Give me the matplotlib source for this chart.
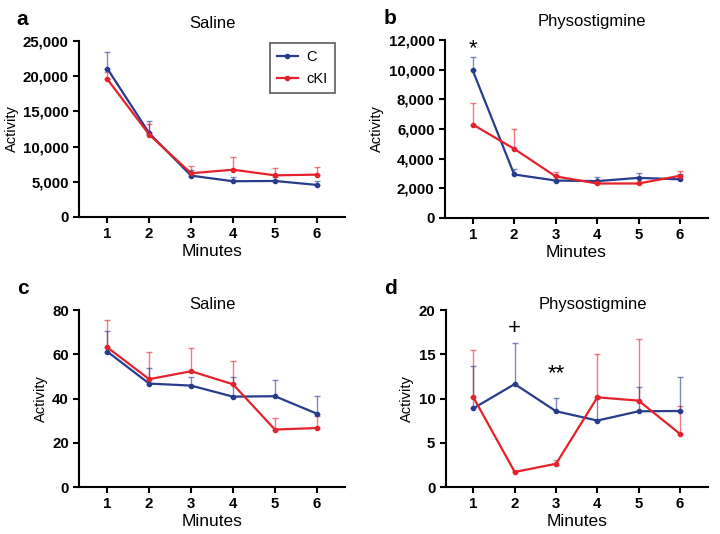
import numpy as np
import matplotlib
matplotlib.use('Agg')
import matplotlib.pyplot as plt

plt.rcParams['font.family'] = ['Liberation Sans', 'DejaVu Sans']

minutes = [1, 2, 3, 4, 5, 6]

# panel a: saline, activity counts
a_c = [21100, 11900, 5860, 5060, 5100, 4540]
a_c_err = [23500, 13600, 6700, 5700, 5700, 5060]
a_k = [19600, 11700, 6200, 6700, 5900, 6000]
a_k_err = [20600, 13200, 7200, 8500, 7000, 7100]

# panel b: physostigmine, activity counts
b_c = [9950, 2930, 2520, 2480, 2700, 2600]
b_c_err = [10850, 3330, 2800, 2750, 3000, 2950]
b_k = [6300, 4660, 2800, 2320, 2320, 2840]
b_k_err = [7720, 5970, 3080, 2450, 2450, 3170]

# panel c: saline, activity
c_c = [61.3, 46.8, 45.9, 40.9, 41.1, 33.2]
c_c_err = [70.8, 53.7, 49.7, 49.8, 48.3, 41.2]
c_k = [63.2, 48.8, 52.4, 46.5, 26.0, 26.7]
c_k_err = [75.8, 61.3, 62.8, 57.1, 31.2, 32.0]

# panel d: physostigmine, activity
d_c = [8.9, 11.65, 8.57, 7.52, 8.57, 8.6]
d_c_err = [13.7, 16.3, 10.1, 10.0, 11.3, 12.5]
d_k = [10.15, 1.7, 2.63, 10.15, 9.77, 6.0]
d_k_err = [15.45, 1.85, 3.08, 15.1, 16.7, 9.2]

blue = '#283c8e'
red = '#e5222b'


def draw(ax, c, c_err, k, k_err, ymax, step, title, letter, fmt, title_x=0.5, title_y=1.0):
    x = np.array(minutes)
    for vals, errs, col in [(k, k_err, red), (c, c_err, blue)]:
        vals = np.array(vals)
        up = np.array(errs) - vals
        ax.errorbar(x, vals, yerr=[np.zeros_like(up), up], fmt='none',
                    ecolor=col, alpha=0.6, elinewidth=1, capsize=2, capthick=1)
    ax.plot(x, c, '-o', color=blue, lw=1.6, ms=3, label='C')
    ax.plot(x, k, '-o', color=red, lw=1.6, ms=3, label='cKI')
    ax.set_xlim(0.33, 6.67)
    ax.set_ylim(0, ymax)
    ax.set_xticks(minutes)
    ax.set_yticks(np.arange(0, ymax + step / 2, step))
    ax.yaxis.set_major_formatter(matplotlib.ticker.FuncFormatter(fmt))
    for s in ['top', 'right']:
        ax.spines[s].set_visible(False)
    for s in ['left', 'bottom']:
        ax.spines[s].set_linewidth(1.5)
    ax.tick_params(width=1.5, length=4, labelsize=10.8)
    for lab in ax.get_xticklabels() + ax.get_yticklabels():
        lab.set_fontweight('bold')
    ax.set_xlabel('Minutes', fontsize=12.5, labelpad=2)
    ax.set_ylabel('Activity', fontsize=10.5, labelpad=3)
    ax.text(title_x, title_y, title, transform=ax.transAxes, ha='center', va='bottom', fontsize=12)
    ax.text(-0.235, 1.07, letter, transform=ax.transAxes, ha='left', va='bottom',
            fontsize=15, fontweight='bold')


fig = plt.figure(figsize=(7.2, 5.34), dpi=100)
ax_a = fig.add_axes([0.110, 0.594, 0.369, 0.329])
ax_b = fig.add_axes([0.618, 0.592, 0.365, 0.333])
ax_c = fig.add_axes([0.110, 0.088, 0.369, 0.331])
ax_d = fig.add_axes([0.619, 0.088, 0.364, 0.331])

comma = lambda v, p: f'{int(v):,}'
plain = lambda v, p: f'{int(v)}'

draw(ax_a, a_c, a_c_err, a_k, a_k_err, 25000, 5000, 'Saline', 'a', comma, title_y=1.06)
draw(ax_b, b_c, b_c_err, b_k, b_k_err, 12000, 2000, 'Physostigmine', 'b', comma, title_x=0.56, title_y=1.06)
draw(ax_c, c_c, c_c_err, c_k, c_k_err, 80, 20, 'Saline', 'c', plain, title_y=0.99)
draw(ax_d, d_c, d_c_err, d_k, d_k_err, 20, 5, 'Physostigmine', 'd', plain, title_x=0.56, title_y=0.99)

ax_a.legend(loc='upper right', bbox_to_anchor=(0.99, 1.03), fontsize=10.5, frameon=True,
            fancybox=False, edgecolor='#333333', handlelength=1.4, borderpad=0.5,
            handletextpad=0.6, labelspacing=0.5)
ax_a.get_legend().get_frame().set_linewidth(1.2)

ax_b.text(1, 11400, '*', ha='center', va='center', fontsize=16)
ax_d.text(2, 17.9, '+', ha='center', va='center', fontsize=16)
ax_d.text(3, 12.8, '**', ha='center', va='center', fontsize=16)

fig.savefig('out.png', dpi=100)
